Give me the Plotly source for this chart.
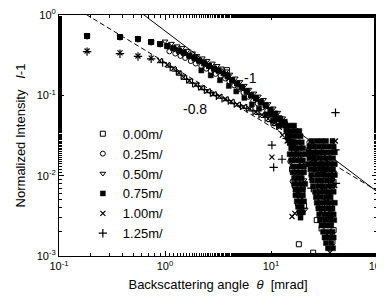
import plotly.graph_objects as go

# ---------------- data ----------------
labels = ["0.00m/", "0.25m/", "0.50m/", "0.75m/", "1.00m/", "1.25m/"]

# 0.00 m (open squares)
theta_000 = [0.184, 0.376, 0.556, 0.74, 0.9, 1.05, 1.2, 1.35, 1.5, 1.7, 1.9, 2.1, 2.35, 2.6, 2.9, 3.2, 3.84, 3.9, 4.3, 4.8, 5.3, 5.9, 6.5, 7.2, 8.0, 8.9, 9.9, 11.0, 12.2, 13.5,
             14.5, 15.5, 16.5, 17.2, 15.8, 18.5, 16.8, 19.5, 18.0, 19.0, 18.3, 20.5, 24, 26, 28, 31, 33, 29, 35, 32, 37, 34, 30, 36, 38, 25, 39, 27]
int_000 = [0.548, 0.532, 0.503, 0.461, 0.435, 0.41, 0.385, 0.36, 0.34, 0.31, 0.29, 0.27, 0.25, 0.232, 0.215, 0.203, 0.206, 0.172, 0.155, 0.14, 0.126, 0.112, 0.10, 0.092, 0.083, 0.075, 0.066, 0.059, 0.051, 0.044,
           0.032, 0.026, 0.021, 0.016, 0.012, 0.0095, 0.0075, 0.006, 0.0045, 0.0035, 0.0014, 0.0042, 0.024, 0.019, 0.015, 0.012, 0.009, 0.007, 0.0055, 0.0042, 0.0033, 0.0026, 0.0022, 0.0018, 0.0015, 0.0011, 0.0021, 0.0028]

# 0.25 m (open circles)
theta_025 = [0.184, 0.376, 0.556, 0.74, 0.9, 1.1, 1.25, 1.4, 1.55, 1.75, 1.95, 2.2, 2.45, 2.7, 3.0, 3.35, 3.7, 4.05, 4.5, 5.0, 5.5, 6.1, 6.8, 7.5, 8.3, 9.2, 10.3, 11.4, 12.6, 14.0,
             14.0, 15.0, 16.2, 17.5, 15.2, 17.0, 19.0, 16.0, 20.0, 17.8, 19.8, 23, 25, 27, 30, 34, 38, 26, 29, 32, 36, 28, 33, 31, 35]
int_025 = [0.54, 0.525, 0.495, 0.455, 0.43, 0.353, 0.331, 0.31, 0.292, 0.267, 0.249, 0.232, 0.215, 0.2, 0.185, 0.175, 0.162, 0.148, 0.133, 0.12, 0.108, 0.096, 0.086, 0.079, 0.071, 0.064, 0.057, 0.051, 0.044, 0.038,
           0.036, 0.029, 0.023, 0.019, 0.015, 0.012, 0.010, 0.0085, 0.007, 0.0058, 0.0048, 0.026, 0.021, 0.017, 0.014, 0.011, 0.009, 0.0105, 0.0082, 0.0065, 0.005, 0.004, 0.0031, 0.0024, 0.0019]

# 0.50 m (open down-triangles)
theta_050 = [0.184, 0.376, 0.556, 0.74, 0.9, 1.0, 1.15, 1.3, 1.45, 1.62, 1.82, 2.0, 2.25, 2.5, 2.8, 3.1, 3.4, 3.75, 4.1, 4.6, 5.1, 5.6, 6.2, 6.9, 7.6, 8.5, 9.4, 10.5, 11.6, 12.9,
             13.8, 14.8, 16.0, 18.0, 19.5, 15.5, 18.8, 16.5, 20.5, 17.5, 18.8, 21.0, 24.5, 27, 30, 33, 36, 39, 25.5, 28, 35, 31, 37, 33.5, 29.5]
int_050 = [0.55, 0.535, 0.505, 0.465, 0.44, 0.47, 0.44, 0.41, 0.39, 0.36, 0.335, 0.31, 0.29, 0.27, 0.25, 0.233, 0.217, 0.2, 0.182, 0.163, 0.147, 0.132, 0.118, 0.106, 0.097, 0.088, 0.078, 0.069, 0.061, 0.052,
           0.040, 0.033, 0.027, 0.022, 0.018, 0.0175, 0.013, 0.0105, 0.0088, 0.0068, 0.0052, 0.0038, 0.027, 0.023, 0.019, 0.016, 0.013, 0.011, 0.015, 0.012, 0.0085, 0.0068, 0.0043, 0.0036, 0.0029]

# 0.75 m (filled) – band points
theta_075 = [0.184, 0.376, 0.556, 0.74, 0.9, 1.05, 1.2, 1.35, 1.5, 1.7, 1.9, 2.1, 2.35, 2.6, 2.9, 3.2, 3.55, 3.9, 4.3, 4.8, 5.3, 5.9, 6.5, 7.2, 8.0, 8.9, 9.9, 11.0, 12.2,
             2.2, 2.7, 3.3, 4.0, 4.7, 5.6, 6.6, 7.7, 9.0, 10.5]
int_075 = [0.548, 0.532, 0.503, 0.461, 0.435, 0.41, 0.385, 0.36, 0.34, 0.31, 0.29, 0.27, 0.25, 0.232, 0.215, 0.203, 0.188, 0.172, 0.155, 0.14, 0.126, 0.112, 0.10, 0.092, 0.083, 0.075, 0.066, 0.059, 0.051,
           0.204, 0.177, 0.154, 0.131, 0.112, 0.093, 0.077, 0.068, 0.058, 0.048]
# 0.75 m (filled) – scatter cloud, one intensity level per row with the angles seen on it
cloud_075_levels = [0.058, 0.052, 0.047, 0.042, 0.036, 0.031, 0.026, 0.022, 0.0185, 0.0155, 0.013, 0.011, 0.0093, 0.0079,
                    0.0067, 0.0057, 0.0048, 0.0041, 0.0035, 0.003,
                    0.027, 0.023, 0.0195, 0.0165, 0.014, 0.012, 0.0102, 0.0087, 0.0074, 0.0063, 0.0054, 0.0046,
                    0.0039, 0.0033, 0.0028, 0.0024, 0.002, 0.0017, 0.00145, 0.00125]
cloud_075_thetas = [[10.0], [11.0, 12.0], [12.5, 13.5], [12.0, 13.5, 15, 16.5], [14, 15.5, 17, 18.5], [14.5, 16, 17.5, 19],
                    [15, 16.5, 18, 19.5], [15.5, 17, 18.5, 20], [15, 16.5, 18, 19.5, 21], [15.5, 17, 18.5, 20],
                    [16, 17.5, 19, 20.5], [16, 17.5, 19, 20.5], [16.5, 18, 19.5], [16.5, 18, 19.5, 21],
                    [17, 18.5, 20], [17, 18.5, 20], [17.5, 19, 20.5], [18, 19.5], [18.5, 20], [19],
                    [24, 27, 30, 33, 38], [23, 25.5, 28.5, 31.5, 35, 39], [22.5, 24.5, 27, 30, 33, 36.5, 40],
                    [23, 25.5, 28.5, 31.5, 35, 38.5], [22.5, 24.5, 27, 30, 33, 36.5, 40], [23.5, 26, 29, 32, 35, 38.5],
                    [24, 27, 30, 33, 36.5, 40], [24.5, 27.5, 30.5, 34, 37.5], [25, 28, 31, 34.5, 38],
                    [26, 29, 32, 35.5, 39], [26.5, 29.5, 33, 36.5], [27, 30, 33.5, 37, 40], [28, 31, 34.5, 38],
                    [28.5, 32, 35.5, 39], [29, 32.5, 36, 39.5], [30, 33.5, 37], [31, 34.5, 38], [32, 35.5, 39],
                    [33, 37], [34.5, 38.5]]

# 1.00 m (x)
theta_100 = [0.184, 0.376, 0.556, 0.74, 0.89, 1.05, 1.2, 1.35, 1.5, 1.7, 1.95, 2.2, 2.5, 2.85, 3.25, 3.7, 4.2, 4.8, 5.5, 6.3, 7.2, 8.2, 9.4, 10.7, 12.0,
             12.8, 14.2, 15.8, 17.5, 19.5, 10.2, 15.8, 16.8, 40.5, 22.5, 25, 28, 31, 35, 38, 40, 27, 33, 36, 36, 24, 29.5]
int_100 = [0.356, 0.337, 0.309, 0.291, 0.27, 0.24, 0.215, 0.19, 0.167, 0.152, 0.135, 0.124, 0.113, 0.104, 0.097, 0.09, 0.084, 0.077, 0.072, 0.068, 0.062, 0.057, 0.051, 0.045, 0.040,
           0.032, 0.027, 0.022, 0.018, 0.015, 0.017, 0.0031, 0.0034, 0.027, 0.020, 0.016, 0.013, 0.017, 0.012, 0.0095, 0.0075, 0.0062, 0.0048, 0.0024, 0.0011, 0.0095, 0.0035]

# 1.25 m (+)
theta_125 = [0.184, 0.376, 0.556, 0.74, 0.95, 1.12, 1.28, 1.42, 1.6, 1.82, 2.07, 2.35, 2.68, 3.05, 3.45, 3.95, 4.5, 5.15, 5.9, 6.75, 7.7, 8.8, 10.0, 11.3,
             10.2, 12.7, 10.6, 40.6, 40.6, 14, 15.5, 17, 19, 21, 23, 26, 30, 34, 38, 41, 24, 28, 32, 35]
int_125 = [0.35, 0.33, 0.305, 0.285, 0.255, 0.225, 0.2, 0.178, 0.158, 0.142, 0.13, 0.118, 0.108, 0.099, 0.092, 0.086, 0.079, 0.074, 0.069, 0.064, 0.058, 0.053, 0.047, 0.042,
           0.024, 0.016, 0.0127, 0.061, 0.021, 0.029, 0.024, 0.019, 0.016, 0.013, 0.018, 0.014, 0.011, 0.014, 0.010, 0.008, 0.007, 0.0052, 0.004, 0.003]

# power-law guide lines: I = amp * theta**slope
line_x = [0.1, 100]
solid_slope, solid_amp = -1.0, 0.634
dash_slope, dash_amp = -0.8, 0.258

x_tickvals = [0.1, 1, 10, 100]
x_ticktext = ["10<sup>-1</sup>", "10<sup>0</sup>", "10<sup>1</sup>", "10<sup>2</sup>"]
y_tickvals = [0.001, 0.01, 0.1, 1]
y_ticktext = ["10<sup>-3</sup>", "10<sup>-2</sup>", "10<sup>-1</sup>", "10<sup>0</sup>"]

# ---------------- figure ----------------
FONT = "Liberation Sans, Arial, sans-serif"
fig = go.Figure()

x075 = list(theta_075)
y075 = list(int_075)
for lvl, ths in zip(cloud_075_levels, cloud_075_thetas):
    for t in ths:
        x075.append(t)
        y075.append(lvl)

series = [
    (labels[0], theta_000, int_000, dict(symbol="square-open", size=5, line=dict(width=1, color="black"))),
    (labels[1], theta_025, int_025, dict(symbol="circle-open", size=5, line=dict(width=1, color="black"))),
    (labels[2], theta_050, int_050, dict(symbol="triangle-down-open", size=5, line=dict(width=1, color="black"))),
    (labels[3], x075, y075, dict(symbol="square", size=5, line=dict(width=0.5, color="black"))),
    (labels[4], theta_100, int_100, dict(symbol="x-thin-open", size=5, line=dict(width=1.2, color="black"))),
    (labels[5], theta_125, int_125, dict(symbol="cross-thin-open", size=6, line=dict(width=1.2, color="black"))),
]
for name, xs, ys, mk in series:
    fig.add_trace(go.Scatter(x=xs, y=ys, mode="markers", name=name,
                             marker=dict(color="black", **mk)))

fig.add_trace(go.Scatter(x=line_x, y=[solid_amp * v ** solid_slope for v in line_x],
                         mode="lines", line=dict(color="black", width=1), showlegend=False))
fig.add_trace(go.Scatter(x=line_x, y=[dash_amp * v ** dash_slope for v in line_x],
                         mode="lines", line=dict(color="black", width=1, dash="5px,3px"), showlegend=False))

fig.add_annotation(x=0.811, y=-0.784, xref="x", yref="y", text="-1", showarrow=False,
                   font=dict(family=FONT, size=14, color="black"))
fig.add_annotation(x=0.283, y=-1.17, xref="x", yref="y", text="-0.8", showarrow=False,
                   font=dict(family=FONT, size=14, color="black"))

axis_common = dict(type="log", showgrid=False, zeroline=False, showline=True, linecolor="black",
                   linewidth=1, mirror="allticks", ticks="inside", ticklen=5, tickcolor="black",
                   ticklabeloverflow="allow",
                   tickfont=dict(family=FONT, size=11, color="black"),
                   minor=dict(ticks="inside", ticklen=3, tickcolor="black"))

fig.update_xaxes(range=[-1, 2], tickvals=x_tickvals, ticktext=x_ticktext,
                 title=dict(text="Backscattering angle  <i>θ</i>  [mrad]", standoff=8,
                            font=dict(family=FONT, size=13, color="black")),
                 **axis_common)
fig.update_yaxes(range=[-3, 0], tickvals=y_tickvals, ticktext=y_ticktext,
                 title=dict(text="Normalized Intensity   <i>I</i>-1", standoff=8,
                            font=dict(family=FONT, size=13, color="black")),
                 **axis_common)

# the page adds an 8px body margin, so the figure is drawn 8px smaller
fig.update_layout(
    width=376, height=288,
    margin=dict(l=51, r=7, t=7, b=40, autoexpand=False),
    paper_bgcolor="white", plot_bgcolor="white",
    font=dict(family=FONT, color="black"),
    legend=dict(x=0.075, y=0.03, xanchor="left", yanchor="bottom", bgcolor="rgba(0,0,0,0)",
                font=dict(family=FONT, size=13, color="black"), tracegroupgap=0, itemwidth=30),
)

fig.write_html("out.html")
